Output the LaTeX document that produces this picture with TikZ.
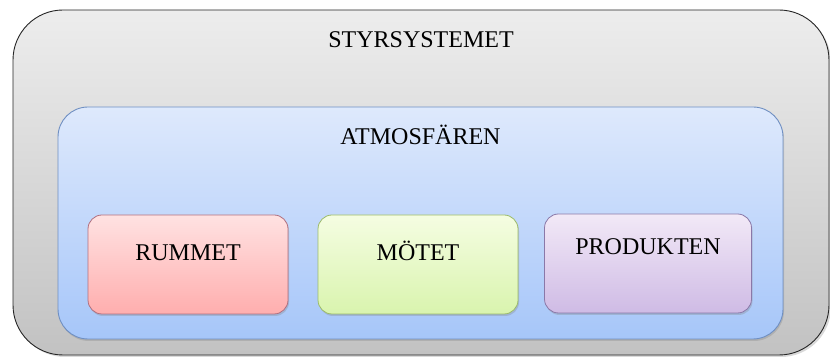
\documentclass[tikz,border=0pt]{standalone}
\usepackage{fontspec}
\setmainfont{Liberation Serif}
\usetikzlibrary{shadows}

\definecolor{styrtop}{HTML}{EDEDED}
\definecolor{styrbot}{HTML}{C2C2C2}
\definecolor{atmotop}{HTML}{DEE9FC}
\definecolor{atmobot}{HTML}{A6C6F9}
\definecolor{atmoline}{HTML}{6F8FC2}
\definecolor{rumtop}{HTML}{FFE2E2}
\definecolor{rumbot}{HTML}{FFAEAE}
\definecolor{rumline}{HTML}{B07080}
\definecolor{mottop}{HTML}{F5FDE2}
\definecolor{motbot}{HTML}{D9F4AE}
\definecolor{motline}{HTML}{9CBB6A}
\definecolor{prodtop}{HTML}{F2E9F7}
\definecolor{prodbot}{HTML}{CFBBE5}
\definecolor{prodline}{HTML}{8A78A8}

\begin{document}
\begin{tikzpicture}[x=1pt, y=1pt, node distance=230pt,
  font=\fontsize{24}{28}\selectfont,
  box/.style={shape=rectangle, rounded corners=14pt, inner sep=0pt, line width=0.8pt,
    minimum width=200pt, minimum height=99pt,
    drop shadow={opacity=0.3, shadow xshift=1pt, shadow yshift=-2pt}}]
\useasboundingbox (0,0) rectangle (830,358);

\node [shape=rectangle, draw=black!85, line width=0.9pt, rounded corners=50pt, top color=styrtop, bottom color=styrbot,
  minimum width=816pt, minimum height=345pt, inner sep=0pt, text height=38pt, text depth=307pt,
  drop shadow={opacity=0.3, shadow xshift=2pt, shadow yshift=-2pt}] (styr) at (421,175.5) {STYRSYSTEMET};
\node [shape=rectangle, draw=atmoline, line width=0.9pt, rounded corners=30pt, top color=atmotop, bottom color=atmobot,
  minimum width=725pt, minimum height=232pt, inner sep=0pt, text height=38pt, text depth=194pt,
  drop shadow={opacity=0.3, shadow xshift=1pt, shadow yshift=-2pt}] (atmo) at (420.5,135) {ATMOSFÄREN};

\node [box, draw=rumline, top color=rumtop, bottom color=rumbot, text height=46pt, text depth=53pt] (rum) at (188,93.5) {RUMMET};
\node [box, right of=rum, draw=motline, top color=mottop, bottom color=motbot, text height=46pt, text depth=53pt] (mot) {MÖTET};
\node [box, right of=mot, draw=prodline, top color=prodtop, bottom color=prodbot, text height=41pt, text depth=58pt, minimum width=207pt, yshift=1pt] (prod) {PRODUKTEN};
\end{tikzpicture}
\end{document}
